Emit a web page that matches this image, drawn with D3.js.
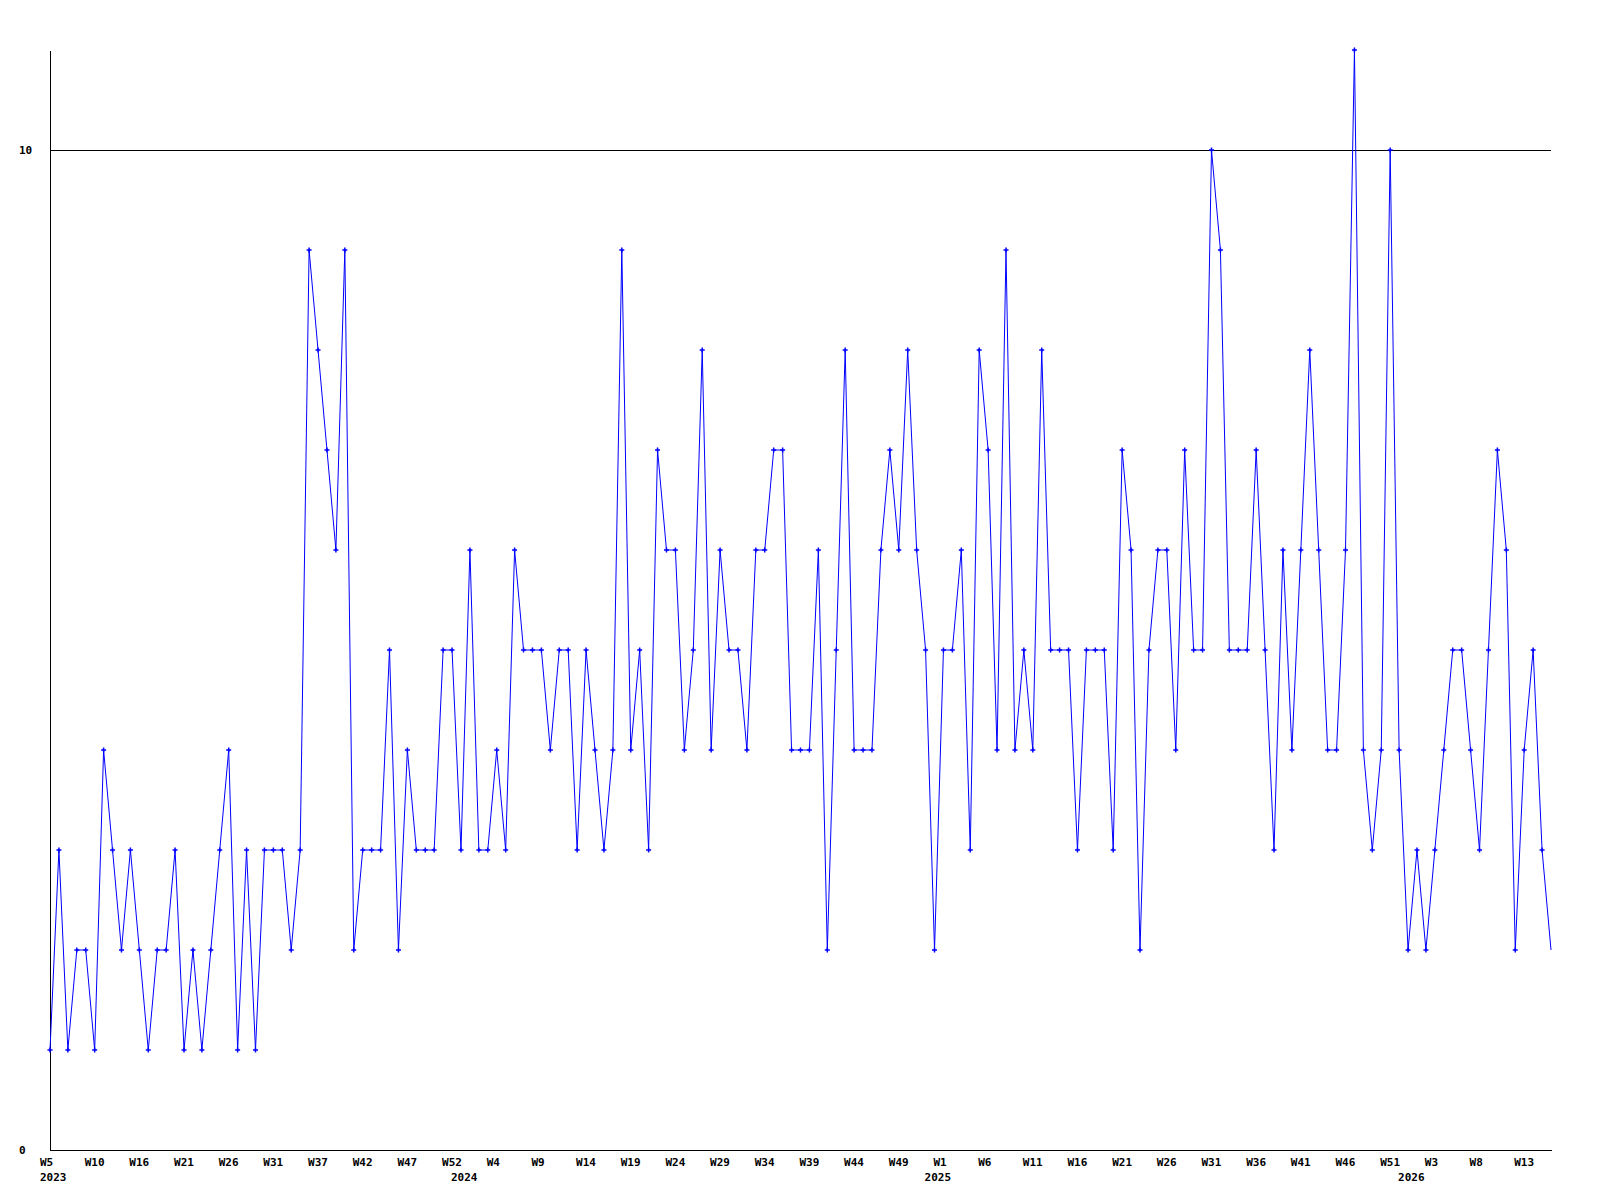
<!DOCTYPE html>
<html>
<head>
<meta charset="utf-8">
<script src="https://cdn.jsdelivr.net/npm/d3@7"></script>
<style>
  html, body { margin: 0; padding: 0; background: #ffffff; }
  svg { display: block; }
  text { font-family: "DejaVu Sans Mono", "Liberation Mono", monospace; font-weight: bold; font-size: 11px; fill: #000; }
</style>
</head>
<body>
<script>
// Weekly values, one per week starting at 2023 W5
const values = [
  1,3,1,2,2,1,4,3,2,3,2,1,2,2,3,1,2,1,2,3,4,1,3,1,3,3,3,2,3,9,
  8,7,6,9,2,3,3,3,5,2,4,3,3,3,5,5,3,6,3,3,4,3,6,5,5,5,4,5,5,
  3,5,4,3,4,9,4,5,3,7,6,6,4,5,8,4,6,5,5,4,6,6,7,7,4,4,4,6,2,
  5,8,4,4,4,6,7,6,8,6,5,2,5,5,6,3,8,7,4,9,4,5,4,8,5,5,5,3,5,
  5,5,3,7,6,2,5,6,6,4,7,5,5,10,9,5,5,5,7,5,3,6,4,6,8,6,4,4,6,
  11,4,3,4,10,4,2,3,2,3,4,5,5,4,3,5,7,6,2,4,5,3,2
];
// Tick labels, one every 5 data points
const weekLabels = ["W5","W10","W16","W21","W26","W31","W37","W42","W47","W52",
  "W4","W9","W14","W19","W24","W29","W34","W39","W44","W49",
  "W1","W6","W11","W16","W21","W26","W31","W36","W41","W46",
  "W51","W3","W8","W13"];
const tickEvery = 5;
// Year labels and the data index at which each year starts
const yearLabels = ["2023","2024","2025","2026"];
const yearStartIndex = [0, 46, 99, 152];
// Y axis labels
const yTickValues = [0, 10];
const gridValues = [10];

const W = 1600, H = 1200;
const mLeft = 50, mRight = 1551, mTop = 50, mBottom = 1150;

const svg = d3.select("body").append("svg").attr("width", W).attr("height", H);

const x = d3.scaleLinear().domain([0, values.length - 1]).range([mLeft, mRight]);
const y = d3.scaleLinear().domain([0, 11]).range([mBottom, mTop]);

// gridline
svg.selectAll("line.grid").data(gridValues).join("line")
  .attr("class", "grid")
  .attr("x1", mLeft).attr("x2", mRight)
  .attr("y1", d => Math.round(y(d)) + 0.5).attr("y2", d => Math.round(y(d)) + 0.5)
  .attr("stroke", "#000").attr("stroke-width", 1)
  .attr("shape-rendering", "crispEdges");

// axes
const yAxis = d3.axisLeft(y).tickValues(yTickValues).tickSize(0).tickSizeOuter(0).tickFormat("");
svg.append("g").attr("transform", `translate(${mLeft},0)`).call(yAxis)
  .call(g => g.select(".domain").attr("stroke", "#000").attr("stroke-width", 1).attr("shape-rendering", "crispEdges"));
const xAxis = d3.axisBottom(x).tickValues([]).tickSize(0).tickSizeOuter(0);
svg.append("g").attr("transform", `translate(0,${mBottom})`).call(xAxis)
  .call(g => g.select(".domain").attr("stroke", "#000").attr("stroke-width", 1).attr("shape-rendering", "crispEdges"));

// y labels (left aligned)
svg.selectAll("text.ylab").data(yTickValues).join("text")
  .attr("class", "ylab")
  .attr("x", 19)
  .attr("y", d => y(d) + 4)
  .text(d => d);

// week labels
svg.selectAll("text.wlab").data(weekLabels).join("text")
  .attr("class", "wlab")
  .attr("x", (d, i) => x(i * tickEvery) - 10)
  .attr("y", mBottom + 16)
  .text(d => d);

// year labels
svg.selectAll("text.yrlab").data(yearLabels).join("text")
  .attr("class", "yrlab")
  .attr("x", (d, i) => x(yearStartIndex[i]) - 10)
  .attr("y", mBottom + 31)
  .text(d => d);

// line
const pts = values.map((v, i) => ({ i, v }));
const line = d3.line().x(d => x(d.i)).y(d => y(d.v));
svg.append("path").datum(pts)
  .attr("d", line)
  .attr("fill", "none")
  .attr("stroke", "#0000ff")
  .attr("stroke-width", 1);

// markers (the last point sits on the plot edge and shows no marker)
svg.selectAll("path.mk").data(pts.filter(d => d.i < values.length - 1)).join("path")
  .attr("class", "mk")
  .attr("transform", d => `translate(${x(d.i)},${y(d.v)})`)
  .attr("d", "M-2.5,0H2.5M0,-2.5V2.5")
  .attr("stroke", "#0000ff")
  .attr("stroke-width", 1.5)
  .attr("fill", "none");
</script>
</body>
</html>
